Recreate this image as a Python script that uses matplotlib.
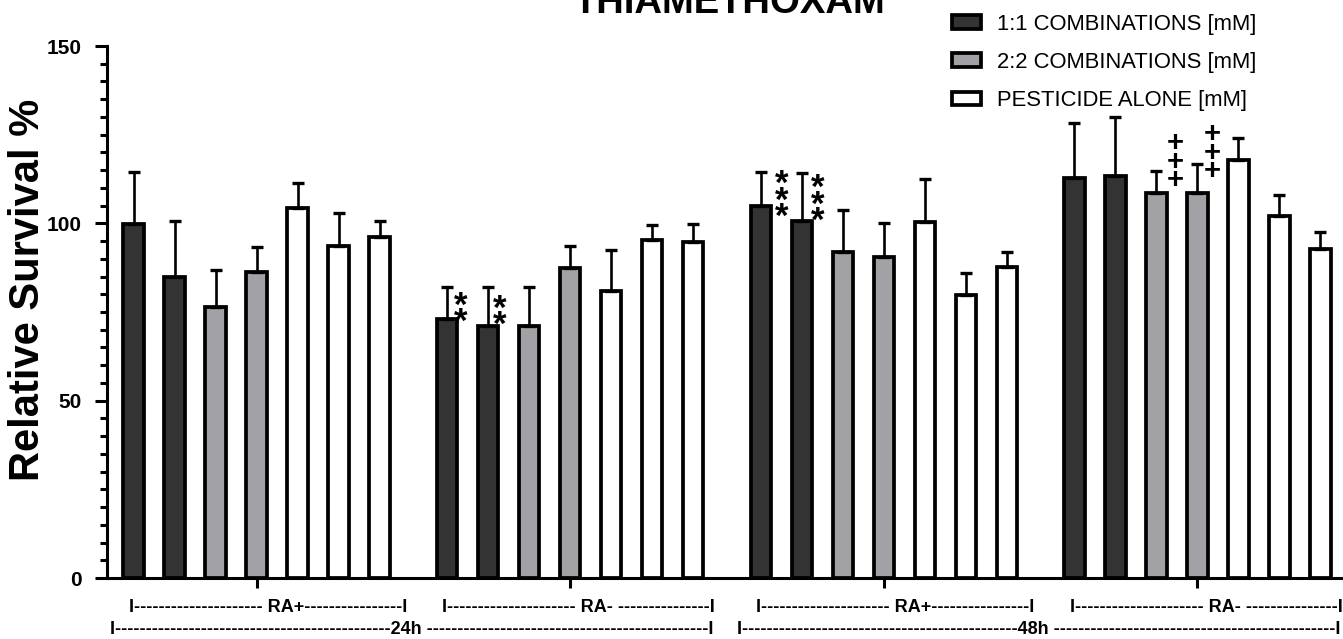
import matplotlib
matplotlib.use("Agg")
import matplotlib.pyplot as plt
import numpy as np
from matplotlib.patches import Patch
from matplotlib.ticker import MultipleLocator, FixedLocator, NullFormatter
from matplotlib.transforms import blended_transform_factory, ScaledTranslation

plt.rcParams['font.family'] = ['Liberation Sans', 'DejaVu Sans']

W, H, DPI = 1343, 639, 100

# ---- data -------------------------------------------------------------
title = "THIAMETHOXAM"
treatments = ["1:1 COMBINATIONS [mM]", "2:2 COMBINATIONS [mM]", "PESTICIDE ALONE [mM]"]
treatment_colors = ["#333333", "#a2a2a6", "#ffffff"]
bar_treatment = [0, 0, 1, 1, 2, 2, 2]          # treatment of each bar inside a group
group_labels = ["RA+", "RA-", "RA+", "RA-"]
time_labels = ["24h", "48h"]

survival = [
    [99.8, 85.0, 76.3, 86.2, 104.3, 93.6, 96.1],     # 24h RA+
    [73.0, 71.0, 71.0, 87.3, 80.8, 95.3, 94.8],      # 24h RA-
    [104.9, 100.7, 91.9, 90.5, 100.5, 79.7, 87.6],   # 48h RA+
    [112.9, 113.3, 108.6, 108.6, 117.8, 102.2, 92.9] # 48h RA-
]
sem = [
    [14.8, 15.6, 10.5, 7.0, 7.0, 9.2, 4.6],
    [9.1, 11.0, 11.0, 6.3, 11.7, 4.1, 5.1],
    [9.6, 13.6, 11.8, 9.5, 12.0, 6.4, 4.4],
    [15.3, 16.8, 6.1, 8.0, 6.4, 5.7, 4.6],
]
# significance marks: (group, bar, symbol, count)
sig_marks = [(1, 0, "*", 2), (1, 1, "*", 2), (2, 0, "*", 3),
             (2, 1, "*", 3), (3, 2, "+", 3), (3, 3, "+", 3)]

# ---- layout -----------------------------------------------------------
group_step = 7.65
bar_width = 0.5
n_bars = len(bar_treatment)
# horizontal shift and lift (value units) of the lowest mark of each stack
mark_dx = [0.33, 0.27, 0.51, 0.39, 0.45, 0.36]
mark_lift = [2.0, 3.1, -0.3, 2.8, 4.2, 6.7]
mark_step_px = {"*": 16.5, "+": 18.0}
mark_size = {"*": 25, "+": 21}
mark_center = {"*": 0.57, "+": 0.35}   # glyph centre above baseline, in em
ASC, DESC = 0.716, 0.21                # font ascent of "l" / descent of "p", in em

fig = plt.figure(figsize=(W / DPI, H / DPI), dpi=DPI)
ax_left, ax_right, ax_top, ax_bottom = 107, 1360, 46, 578
ax = fig.add_axes([ax_left / W, 1 - ax_bottom / H,
                   (ax_right - ax_left) / W, (ax_bottom - ax_top) / H])

pitch_px = 41.0
ax.set_xlim(-(133.5 - ax_left) / pitch_px, (ax_right - 133.5) / pitch_px)
ax.set_ylim(0, 150)

lw = 2.2
bar_lw = 2.7
for g, (vals, errs) in enumerate(zip(survival, sem)):
    xs = g * group_step + np.arange(n_bars)
    colors = [treatment_colors[t] for t in bar_treatment]
    ax.bar(xs, vals, width=bar_width, color=colors, edgecolor="black",
           linewidth=bar_lw, zorder=2)
    ax.errorbar(xs, vals, yerr=[np.zeros(n_bars), errs], fmt="none",
                ecolor="black", elinewidth=1.9, capsize=4.4, capthick=2.4,
                zorder=3)

# stacked significance symbols, one text block per bar
for (g, b, sym, cnt), dx, lift in zip(sig_marks, mark_dx, mark_lift):
    x = g * group_step + b + dx
    fs = mark_size[sym]
    fs_px = fs * DPI / 72
    spacing = (mark_step_px[sym] - DESC * fs_px) / (ASC * fs_px)
    shift = ScaledTranslation(0, -(DESC + mark_center[sym]) * fs / 72,
                              fig.dpi_scale_trans)
    ax.text(x, survival[g][b] + lift, "\n".join([sym] * cnt), ha="center",
            va="bottom", fontsize=fs, fontweight="bold", linespacing=spacing,
            transform=ax.transData + shift, zorder=4)

# axes styling
for side in ("top", "right"):
    ax.spines[side].set_visible(False)
for side in ("left", "bottom"):
    ax.spines[side].set_linewidth(lw)
ax.spines["left"].set_bounds(0, 150)

ax.set_yticks([0, 50, 100, 150])
ax.yaxis.set_minor_locator(MultipleLocator(5))
ax.tick_params(axis="y", which="major", direction="out", length=8.4, width=lw,
               pad=10, labelsize=15)
ax.tick_params(axis="y", which="minor", direction="out", length=4.8, width=lw)
for lab in ax.get_yticklabels():
    lab.set_fontweight("bold")

group_centers = [g * group_step + (n_bars - 1) / 2 for g in range(len(group_labels))]
ax.xaxis.set_major_locator(FixedLocator(group_centers))
ax.xaxis.set_major_formatter(NullFormatter())
ax.tick_params(axis="x", which="major", direction="out", length=7.2, width=lw)

fig.text(28 / W, 1 - 290 / H, "Relative Survival %", rotation=90,
         ha="center", va="center", fontsize=30, fontweight="bold")

fig.text(729 / W, 1 - 13 / H, title, ha="center", va="baseline",
         fontsize=27.5, fontweight="bold")

# group brackets under the axis
tr = blended_transform_factory(ax.transData, fig.transFigure)
for g, name in enumerate(group_labels):
    if name.endswith("-"):
        s = "I" + "-" * 21 + " " + name + " " + "-" * 15 + "I"
    else:
        s = "I" + "-" * 21 + " " + name + "-" * 16 + "I"
    fig.text(g * group_step - 0.12, 1 - 608 / H, s, transform=tr,
             ha="left", va="center", fontsize=13, fontweight="bold")
for t, name in enumerate(time_labels):
    s = "I" + "-" * 45 + name + " " + "-" * 46 + "I"
    fig.text(2 * t * group_step - 0.57, 1 - 629 / H, s, transform=tr,
             ha="left", va="center", fontsize=13, fontweight="bold")

handles = [Patch(facecolor=c, edgecolor="black", linewidth=bar_lw) for c in treatment_colors]
fig.legend(handles, treatments, loc="upper left",
           bbox_to_anchor=(952 / W, 1 - 14 / H), frameon=False,
           fontsize=15.8, handlelength=1.3, handleheight=0.6,
           handletextpad=0.75, labelspacing=0.78, borderpad=0, borderaxespad=0)

fig.savefig("out.png", dpi=DPI)
